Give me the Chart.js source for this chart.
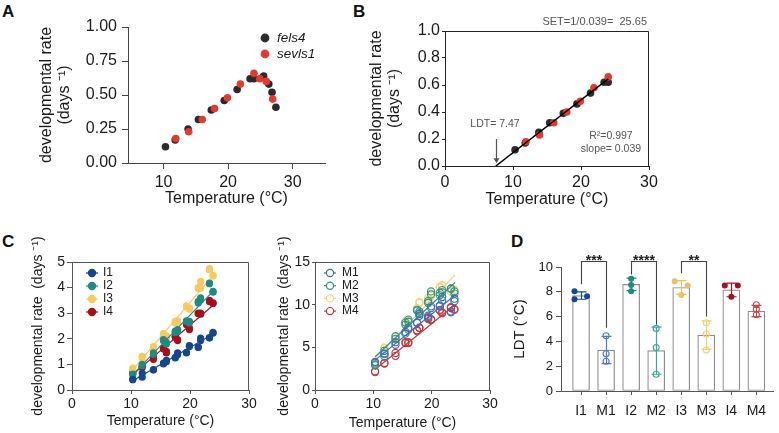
<!DOCTYPE html>
<html>
<head>
<meta charset="utf-8">
<script src="https://cdn.jsdelivr.net/npm/chart.js"></script>
<style>
  html, body { margin: 0; padding: 0; background: #fff; }
  #fig { position: relative; width: 779px; height: 433px; overflow: hidden; font-family: 'Liberation Sans', Arial, sans-serif; }
  #fig canvas { position: absolute; }
  .tag { position: absolute; font-weight: bold; font-size: 17px; line-height: 17px; color: #111; }
</style>
</head>
<body>
<div id="fig">
  <div class="tag" style="left:2px;top:3px">A</div>
  <div class="tag" style="left:353px;top:3px">B</div>
  <div class="tag" style="left:2px;top:233px">C</div>
  <div class="tag" style="left:511px;top:233px">D</div>
  <canvas id="chartA" width="390" height="210" style="left:0;top:0"></canvas>
  <canvas id="chartB" width="429" height="210" style="left:350px;top:0"></canvas>
  <canvas id="chartC1" width="260" height="223" style="left:0;top:210px"></canvas>
  <canvas id="chartC2" width="260" height="223" style="left:260px;top:210px"></canvas>
  <canvas id="chartD" width="279" height="223" style="left:500px;top:210px"></canvas>
</div>
<script>
// ============================
// DATA
// ============================

// A / B : rate vs temperature
const tempFels = [10.3, 11.8, 13.8, 15.4, 17.4, 19.4, 21.4, 23.4, 24.0, 25.5, 26.3, 26.8, 27.4];
const rateFels = [0.12, 0.17, 0.25, 0.32, 0.39, 0.46, 0.54, 0.62, 0.62, 0.64, 0.58, 0.52, 0.41];
const tempSev = [11.9, 13.9, 16.0, 17.9, 19.9, 21.9, 24.0, 24.9, 25.9, 26.9];
const rateSev = [0.18, 0.23, 0.32, 0.40, 0.48, 0.58, 0.66, 0.62, 0.60, 0.47];

// B : linear part only (up to 24 °C) + fit
const maxTempB = 24;
const fitTempB = [7.47, 24.0];
const fitRateB = [0.0, 0.645];
const ldtB = 7.47, slopeB = 0.039, r2B = 0.997, setB = 25.65;

// C : rates of the I and M lines (two replicates per temperature)
const tempC = [10.3, 11.9, 13.8, 15.5, 16.0, 17.5, 17.9, 19.4, 19.9, 21.4, 21.8, 23.3, 23.9];

const rateI1a = [0.40, 0.50, 0.80, 1.05, 1.16, 1.25, 1.45, 1.45, 1.73, 1.68, 2.03, 2.03, 2.25];
const rateI1b = [0.42, 0.66, 0.78, 1.02, 1.10, 1.28, 1.38, 1.47, 1.70, 1.66, 1.93, 2.05, 2.22];
const rateI2a = [0.60, 1.00, 1.45, 1.97, 1.86, 2.30, 2.36, 2.68, 2.62, 3.46, 3.60, 4.15, 3.85];
const rateI2b = [0.62, 0.95, 1.40, 1.92, 1.80, 2.25, 2.30, 2.70, 2.68, 3.40, 3.52, 4.18, 3.82];
const rateI3a = [0.86, 1.31, 1.70, 2.20, 2.12, 2.68, 2.70, 3.29, 3.20, 4.00, 4.24, 4.74, 4.48];
const rateI3b = [0.80, 1.25, 1.50, 2.15, 2.05, 2.62, 2.66, 3.25, 3.15, 3.96, 3.98, 4.70, 4.45];
const rateI4a = [0.70, 0.92, 1.31, 1.64, 1.51, 2.10, 1.97, 2.62, 2.42, 3.00, 3.00, 3.50, 3.40];
const rateI4b = [0.66, 0.88, 1.20, 1.60, 1.45, 2.05, 1.93, 2.55, 2.36, 2.98, 2.96, 3.45, 3.38];

const rateM1a = [3.30, 3.95, 5.30, 6.60, 7.07, 7.85, 8.70, 8.55, 9.80, 9.80, 10.90, 9.10, 10.70];
const rateM1b = [3.20, 4.20, 5.60, 6.80, 7.30, 7.90, 8.90, 8.70, 9.60, 9.90, 10.50, 9.20, 10.40];
const rateM2a = [2.90, 4.30, 6.30, 7.65, 8.25, 9.40, 9.20, 10.40, 11.55, 11.40, 11.45, 11.90, 11.55];
const rateM2b = [3.00, 4.60, 6.00, 7.90, 8.00, 9.30, 9.00, 10.20, 11.20, 11.10, 11.70, 11.85, 11.30];
const rateM3a = [3.05, 4.90, 5.90, 8.05, 8.05, 9.40, 10.20, 10.80, 11.00, 12.07, 12.20, 11.55, 11.75];
const rateM3b = [3.00, 5.00, 6.20, 7.80, 8.20, 9.60, 10.30, 10.60, 11.30, 12.00, 12.30, 11.50, 11.60];
const rateM4a = [2.10, 3.16, 4.34, 5.50, 5.60, 7.00, 7.27, 8.44, 8.30, 9.40, 9.00, 9.60, 9.40];
const rateM4b = [2.20, 3.10, 4.00, 5.60, 5.50, 6.90, 7.30, 8.30, 8.20, 9.30, 9.10, 9.70, 9.50];

// C : fitted lines (end points)
const fitTempC = [10.3, 24.0];
const fitI1 = [0.36, 2.20];
const fitI2 = [0.60, 3.88];
const fitI3 = [0.80, 4.50];
const fitI4 = [0.60, 3.33];
const fitM1 = [3.50, 11.10];
const fitM2 = [3.90, 12.60];
const fitM3 = [3.70, 13.50];
const fitM4 = [2.40, 10.00];

// D : LDT per line
const ldtGroups = ['I1', 'M1', 'I2', 'M2', 'I3', 'M3', 'I4', 'M4'];
const ldtMean = [7.70, 3.30, 8.60, 3.25, 8.35, 4.50, 8.15, 6.45];
const ldtSD = [0.30, 1.10, 0.50, 1.90, 0.55, 1.15, 0.55, 0.45];
const ldtReps = [
  [8.05, 7.40, 7.65], [4.45, 3.00, 2.40], [9.05, 8.55, 8.05], [5.05, 3.50, 1.35],
  [8.85, 7.75, 8.50], [5.50, 4.60, 3.30], [8.50, 7.60, 8.50], [6.95, 6.60, 6.15]
];
const sigPairs = [[0, 1], [2, 3], [4, 5]];
const sigStars = ['***', '****', '**'];

// ============================
// STYLE
// ============================

const FONT = "'Liberation Sans', Arial, sans-serif";
const dark = '#2b2b2b', red = '#e23a2e';
const colI = ['#17468b', '#1f8b80', '#f8c95f', '#a50f1c'];
const colM = ['#3e6fb0', '#2f9488', '#f3d37a', '#c4373c'];
const colD = ['#17468b', '#4d7cc0', '#1f8b80', '#3fa79a', '#f0c060', '#f5d070', '#a50f1c', '#c5474e'];
const dotSpread = [[-0.26, -0.26, 0.24], [0, 0, 0], [0, 0, 0], [0, 0, 0],
                   [-0.26, 0, 0.26], [0, 0, 0], [-0.26, 0, 0.26], [0, 0, 0]];

Chart.defaults.font.family = FONT;
Chart.defaults.color = '#1a1a1a';
Chart.defaults.animation = false;
Chart.defaults.events = [];
Chart.defaults.plugins.legend.display = false;
Chart.defaults.plugins.tooltip.enabled = false;

const pts = (xs, ys) => xs.map((x, i) => ({x: x, y: ys[i]}));

function axis(c) {
  const ticks = { padding: c.pad, font: {size: c.font}, color: '#1a1a1a' };
  if (c.step) ticks.stepSize = c.step;
  if (c.cb) ticks.callback = c.cb;
  const ax = {
    type: 'linear', min: c.min, max: c.max,
    ticks: ticks,
    grid: { drawOnChartArea: false, drawTicks: true, tickLength: c.tick, color: c.line, offset: false },
    border: { display: true, color: c.line, width: 1 },
    title: c.title
      ? { display: true, text: c.title, font: {size: c.tfont, lineHeight: 1.1}, color: '#1a1a1a', padding: c.tpad }
      : { display: false },
    afterFit: s => { if (s.isHorizontal()) s.height = c.size; else s.width = c.size; }
  };
  if (c.at) ax.afterBuildTicks = s => { s.ticks = c.at.map(v => ({value: v})); };
  return ax;
}

// ============================
// PLUGINS
// ============================

const frame = {
  id: 'frame',
  afterDatasetsDraw(chart, args, o) {
    const ctx = chart.ctx, a = chart.chartArea;
    ctx.save();
    ctx.strokeStyle = o.color || '#333';
    ctx.lineWidth = 1;
    ctx.beginPath();
    ctx.moveTo(a.left, a.top + 0.5);
    ctx.lineTo(a.right - 0.5, a.top + 0.5);
    ctx.lineTo(a.right - 0.5, a.bottom);
    ctx.stroke();
    ctx.restore();
  }
};

const dotLegend = {
  id: 'dotLegend',
  afterDraw(chart, args, o) {
    const ctx = chart.ctx;
    ctx.save();
    ctx.font = (o.style || 'normal') + ' ' + o.size + 'px ' + FONT;
    ctx.textBaseline = 'middle';
    o.items.forEach((name, k) => {
      const ds = chart.data.datasets.find(d => d.label === name);
      const cx = o.x, cy = o.y + k * o.step;
      ctx.strokeStyle = ds.borderColor;
      ctx.lineWidth = 1.2;
      if (o.line) {
        ctx.beginPath();
        ctx.moveTo(cx - o.line, cy); ctx.lineTo(cx + o.line, cy);
        ctx.stroke();
      }
      ctx.beginPath();
      ctx.arc(cx, cy, ds.pointRadius, 0, Math.PI * 2);
      ctx.fillStyle = ds.hollow ? '#fff' : ds.backgroundColor;
      ctx.fill();
      ctx.stroke();
      ctx.fillStyle = '#1a1a1a';
      ctx.fillText(name, o.x + o.gap, cy);
    });
    ctx.restore();
  }
};

const notesB = {
  id: 'notesB',
  afterDraw(chart, args, o) {
    const ctx = chart.ctx, a = chart.chartArea, x = chart.scales.x, y = chart.scales.y;
    ctx.save();
    ctx.fillStyle = '#555';
    ctx.strokeStyle = '#555';
    ctx.font = '11px ' + FONT;
    ctx.textBaseline = 'middle';
    ctx.textAlign = 'right';
    ctx.fillText('SET=1/' + slopeB + '=  ' + setB, a.right - 2, a.top - 9);
    ctx.font = '10.5px ' + FONT;
    ctx.textAlign = 'center';
    ctx.fillText('LDT= ' + ldtB, x.getPixelForValue(o.ldtText[0]), y.getPixelForValue(o.ldtText[1]));
    ctx.fillText('slope= ' + slopeB, x.getPixelForValue(o.fitText[0]), y.getPixelForValue(o.fitText[2]));
    ctx.fillText('R\u00B2=' + r2B, x.getPixelForValue(o.fitText[0]), y.getPixelForValue(o.fitText[1]));
    // arrow down to the LDT
    const ax = Math.round(x.getPixelForValue(ldtB)) + 0.5;
    const y0 = y.getPixelForValue(o.arrow[0]), y1 = y.getPixelForValue(o.arrow[1]);
    ctx.lineWidth = 1.2;
    ctx.beginPath(); ctx.moveTo(ax, y0); ctx.lineTo(ax, y1 - 4); ctx.stroke();
    ctx.beginPath(); ctx.moveTo(ax - 3, y1 - 5); ctx.lineTo(ax + 3, y1 - 5); ctx.lineTo(ax, y1); ctx.closePath(); ctx.fill();
    ctx.restore();
  }
};

const ldtMarks = {
  id: 'ldtMarks',
  afterDatasetDraw(chart, args, o) {
    if (args.index !== 0) return;
    const ctx = chart.ctx, x = chart.scales.x, y = chart.scales.y;
    ctx.save();
    ctx.lineWidth = 1.2;
    ldtMean.forEach((m, i) => {
      const px = Math.round(x.getPixelForValue(i)) + 0.5;
      const lo = y.getPixelForValue(m - ldtSD[i]), hi = y.getPixelForValue(m + ldtSD[i]);
      ctx.strokeStyle = colD[i];
      ctx.beginPath();
      ctx.moveTo(px, lo); ctx.lineTo(px, hi);
      ctx.moveTo(px - 5, lo); ctx.lineTo(px + 5, lo);
      ctx.moveTo(px - 5, hi); ctx.lineTo(px + 5, hi);
      ctx.stroke();
    });
    ctx.restore();
  },
  afterDraw(chart, args, o) {
    const ctx = chart.ctx, x = chart.scales.x, y = chart.scales.y;
    ctx.save();
    ctx.strokeStyle = '#444';
    ctx.fillStyle = '#222';
    ctx.lineWidth = 1.1;
    ctx.font = 'bold 14px ' + FONT;
    ctx.textAlign = 'center';
    ctx.textBaseline = 'alphabetic';
    const top = Math.round(y.getPixelForValue(o.top)) + 0.5;
    sigPairs.forEach((p, k) => {
      const xl = Math.round(x.getPixelForValue(p[0])) + 0.5, xr = Math.round(x.getPixelForValue(p[1])) + 0.5;
      ctx.beginPath();
      ctx.moveTo(xl, y.getPixelForValue(o.legs[k][0]));
      ctx.lineTo(xl, top); ctx.lineTo(xr, top);
      ctx.lineTo(xr, y.getPixelForValue(o.legs[k][1]));
      ctx.stroke();
      ctx.fillText(sigStars[k], (xl + xr) / 2, top + 3);
    });
    ctx.restore();
  }
};

// ============================
// A
// ============================

new Chart(document.getElementById('chartA'), {
  type: 'scatter',
  data: {
    datasets: [
      { label: 'sevls1', data: pts(tempSev, rateSev), backgroundColor: red, borderColor: red, pointRadius: 3.8, borderWidth: 0, order: 0 },
      { label: 'fels4', data: pts(tempFels, rateFels), backgroundColor: dark, borderColor: dark, pointRadius: 3.8, borderWidth: 0, order: 1 }
    ]
  },
  options: {
    responsive: false,
    layout: { padding: { top: 27, right: 65, left: 0, bottom: 0 } },
    scales: {
      x: axis({ min: 4.5, max: 35, at: [10, 20, 30], size: 47, font: 16, pad: 4, tick: 6, line: '#444',
                title: 'Temperature (°C)', tfont: 16, tpad: { top: 0, bottom: 3 } }),
      y: axis({ min: 0, max: 1, step: 0.25, size: 128, font: 16, pad: 5, tick: 6, line: '#444', cb: v => v.toFixed(2),
                title: ['developmental rate', '(days \u207B\u00B9)'], tfont: 16, tpad: { top: 38, bottom: 0 } })
    },
    plugins: { dotLegend: { items: ['fels4', 'sevls1'], x: 265, y: 38, step: 16, gap: 12, size: 13.5, style: 'italic' } }
  },
  plugins: [dotLegend]
});

// ============================
// B
// ============================

new Chart(document.getElementById('chartB'), {
  type: 'scatter',
  data: {
    datasets: [
      { label: 'fit', data: pts(fitTempB, fitRateB), showLine: true, borderColor: '#000', borderWidth: 1.5, pointRadius: 0, order: 0 },
      { label: 'sevls1', data: pts(tempSev, rateSev).filter(p => p.x <= maxTempB), backgroundColor: red, borderColor: red, pointRadius: 3.8, borderWidth: 0, order: 1 },
      { label: 'fels4', data: pts(tempFels, rateFels).filter(p => p.x <= maxTempB), backgroundColor: dark, borderColor: dark, pointRadius: 3.8, borderWidth: 0, order: 2 }
    ]
  },
  options: {
    responsive: false,
    layout: { padding: { top: 31, right: 130, left: 0, bottom: 0 } },
    scales: {
      x: axis({ min: 0, max: 30, step: 10, size: 44, font: 16, pad: 3, tick: 4, line: '#222',
                title: 'Temperature (°C)', tfont: 16, tpad: { top: 0, bottom: 2 } }),
      y: axis({ min: 0, max: 1, step: 0.2, size: 95, font: 16, pad: 2, tick: 3, line: '#222', cb: v => v.toFixed(1),
                title: ['developmental rate', '(days \u207B\u00B9)'], tfont: 16, tpad: { top: 18, bottom: 0 } })
    },
    plugins: {
      frame: { color: '#222' },
      notesB: { ldtText: [7.35, 0.31], arrow: [0.2, 0.02], fitText: [24.4, 0.22, 0.124] }
    }
  },
  plugins: [frame, notesB]
});

// ============================
// C (I lines / M lines)
// ============================

function lineSets(names, colors, repA, repB, fits, hollow) {
  const sets = [];
  names.forEach((n, k) => {
    sets.push({ label: n + ' fit', data: pts(fitTempC, fits[k]), showLine: true, borderColor: colors[k], borderWidth: 1.2, pointRadius: 0 });
    sets.push({ label: n, hollow: hollow, data: pts(tempC, repA[k]).concat(pts(tempC, repB[k])),
                backgroundColor: hollow ? 'rgba(255,255,255,0)' : colors[k], borderColor: colors[k],
                borderWidth: hollow ? 1.1 : 0, pointRadius: 3.6 });
  });
  return sets;
}

new Chart(document.getElementById('chartC1'), {
  type: 'scatter',
  data: {
    datasets: lineSets(['I1', 'I2', 'I3', 'I4'], colI,
      [rateI1a, rateI2a, rateI3a, rateI4a], [rateI1b, rateI2b, rateI3b, rateI4b],
      [fitI1, fitI2, fitI3, fitI4], false)
  },
  options: {
    responsive: false,
    layout: { padding: { top: 52, right: 11, left: 0, bottom: 0 } },
    scales: {
      x: axis({ min: 0, max: 30, step: 10, size: 43, font: 14, pad: 2, tick: 4, line: '#555',
                title: 'Temperature (°C)', tfont: 14, tpad: { top: 0, bottom: 4 } }),
      y: axis({ min: 0, max: 5, step: 1, size: 72, font: 14, pad: 2, tick: 5, line: '#555',
                title: 'developmental rate  (days \u207B\u00B9)', tfont: 14, tpad: { top: 30, bottom: 0 } })
    },
    plugins: {
      frame: { color: '#555' },
      dotLegend: { items: ['I1', 'I2', 'I3', 'I4'], x: 92, y: 63, step: 13, gap: 11, size: 12, line: 6 }
    }
  },
  plugins: [frame, dotLegend]
});

new Chart(document.getElementById('chartC2'), {
  type: 'scatter',
  data: {
    datasets: lineSets(['M1', 'M2', 'M3', 'M4'], colM,
      [rateM1a, rateM2a, rateM3a, rateM4a], [rateM1b, rateM2b, rateM3b, rateM4b],
      [fitM1, fitM2, fitM3, fitM4], true)
  },
  options: {
    responsive: false,
    layout: { padding: { top: 52, right: 30, left: 0, bottom: 0 } },
    scales: {
      x: axis({ min: 0, max: 30, step: 10, size: 43, font: 14, pad: 2, tick: 4, line: '#555',
                title: 'Temperature (°C)', tfont: 14, tpad: { top: 0, bottom: 2 } }),
      y: axis({ min: 0, max: 15, step: 5, size: 55, font: 14, pad: 2, tick: 3, line: '#555',
                title: 'developmental rate  (days \u207B\u00B9)', tfont: 14, tpad: { top: 16, bottom: 0 } })
    },
    plugins: {
      frame: { color: '#555' },
      dotLegend: { items: ['M1', 'M2', 'M3', 'M4'], x: 70, y: 63, step: 12.7, gap: 12, size: 12, line: 6 }
    }
  },
  plugins: [frame, dotLegend]
});

// ============================
// D (LDT bars)
// ============================

const dotSets = ldtReps.map((reps, i) => ({
  type: 'scatter',
  label: ldtGroups[i],
  data: reps.map((v, j) => ({ x: i + dotSpread[i][j], y: v })),
  backgroundColor: i % 2 === 0 ? colD[i] : 'rgba(255,255,255,0)',
  borderColor: colD[i],
  borderWidth: i % 2 === 0 ? 0 : 1.1,
  pointRadius: 3,
  order: 0
}));

new Chart(document.getElementById('chartD'), {
  type: 'bar',
  data: {
    datasets: [
      { label: 'LDT', data: ldtMean.map((v, i) => ({ x: i, y: v })), backgroundColor: '#fff',
        borderColor: '#8c8c8c', borderWidth: 1.2, borderSkipped: false, barThickness: 17, order: 5 }
    ].concat(dotSets)
  },
  options: {
    responsive: false,
    layout: { padding: { top: 57, right: 1, left: 0, bottom: 0 } },
    scales: {
      x: Object.assign(axis({ min: -0.8, max: 7.7, at: [0, 1, 2, 3, 4, 5, 6, 7], size: 42, font: 14, pad: 8, tick: 4,
                line: '#555', cb: v => ldtGroups[v] }), { offset: false }),
      y: axis({ min: 0, max: 10, step: 2, size: 61, font: 13, pad: 3, tick: 5, line: '#555',
                title: 'LDT (°C)', tfont: 15, tpad: { top: 12, bottom: 0 } })
    },
    plugins: { ldtMarks: { top: 10.45, legs: [[8.6, 5.1], [9.4, 5.35], [9.5, 6.0]] } }
  },
  plugins: [ldtMarks]
});
</script>
</body>
</html>
